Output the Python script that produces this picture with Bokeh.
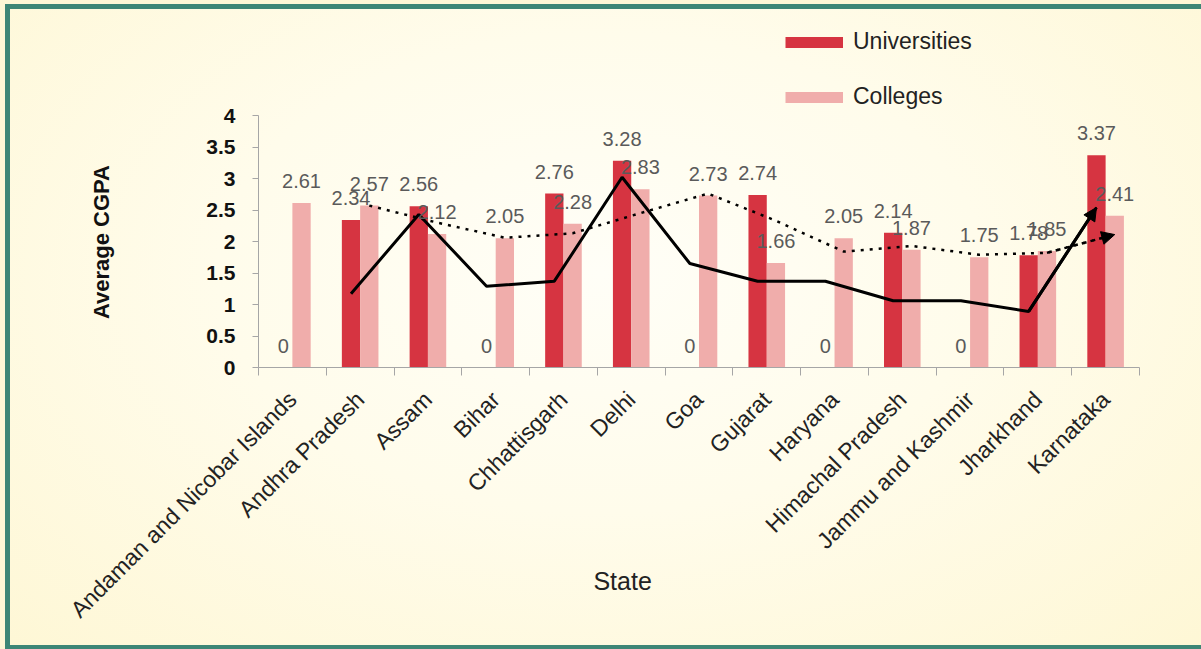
import math
from bokeh.plotting import figure
from bokeh.models import (Range1d, FixedTicker, NumeralTickFormatter, ColumnDataSource,
                          LabelSet, Legend, LegendItem, Arrow, NormalHead)
from bokeh.core.properties import value
from bokeh.embed import file_html
from bokeh.resources import INLINE

# ---------------- data ----------------
states = ["Andaman and Nicobar Islands", "Andhra Pradesh", "Assam", "Bihar", "Chhattisgarh",
          "Delhi", "Goa", "Gujarat", "Haryana", "Himachal Pradesh", "Jammu and Kashmir",
          "Jharkhand", "Karnataka"]
universities = [0, 2.34, 2.56, 0, 2.76, 3.28, 0, 2.74, 0, 2.14, 0, 1.78, 3.37]
colleges = [2.61, 2.57, 2.12, 2.05, 2.28, 2.83, 2.73, 1.66, 2.05, 1.87, 1.75, 1.85, 2.41]
univ_line = [float("nan"), 1.17, 2.43, 1.29, 1.37, 3.02, 1.65, 1.37, 1.37, 1.06, 1.06, 0.89, 2.54]
coll_line = [float("nan"), 2.57, 2.30, 2.06, 2.13, 2.45, 2.76, 2.33, 1.84, 1.93, 1.79, 1.82, 2.11]
y_ticks = [0, 0.5, 1, 1.5, 2, 2.5, 3, 3.5, 4]
series_names = ["Universities", "Colleges"]
x_title = "State"
y_title = "Average CGPA"

# ---------------- style ----------------
RED = "#D63441"
PINK = "#F0ADAB"
TEAL = "#3D8676"
EDGE = "#FEF7D6"
AXIS = "#A6A6A6"
FONT = "Liberation Sans"
DODGE = 0.135
BAR_W = 0.27
W, H = 1201, 649
FRAME_L, FRAME_R, FRAME_B = 258, 1139, 367
PX_PER_UNIT = 63.0

n = len(states)
centers = [i + 0.5 for i in range(n)]
x_u = [c - DODGE for c in centers]
x_c = [c + DODGE for c in centers]
y_max_axis = y_ticks[-1]
y_top = FRAME_B / PX_PER_UNIT   # frame reaches the top of the canvas (room for the legend)

shadow = f"inset 5px 4px 0 0 {EDGE}, inset 10px 9px 0 0 {TEAL}, inset 0 -4px 0 0 {TEAL}"

p = figure(width=W, height=H, x_range=Range1d(0, n), y_range=Range1d(0, y_top),
           title=None, output_backend="svg", toolbar_location=None,
           min_border_left=FRAME_L, min_border_right=W - FRAME_R,
           min_border_top=0, min_border_bottom=H - FRAME_B,
           border_fill_color=None, background_fill_color=None, outline_line_color=None,
           styles={"background": "radial-gradient(ellipse at 50% 42%, #FFFEF7 0%, #FFFCEB 45%, #FEF7D5 100%)",
                   "box-shadow": shadow})
p.xgrid.visible = False
p.ygrid.visible = False

src_u = ColumnDataSource(dict(x=x_u, top=universities, label=[f"{v:g}" for v in universities]))
src_c = ColumnDataSource(dict(x=x_c, top=colleges, label=[f"{v:g}" for v in colleges]))

p.vbar(x="x", top="top", width=BAR_W, source=src_u, fill_color=RED, line_color=None)
p.vbar(x="x", top="top", width=BAR_W, source=src_c, fill_color=PINK, line_color=None)

# lines
p.line(x_u, univ_line, line_color="black", line_width=3)
p.line(x_c, coll_line, line_color="black", line_width=2.5, line_dash="3 6")
p.add_layout(Arrow(end=NormalHead(size=13, fill_color="black", line_color="black"),
                   x_start=x_u[-2], y_start=univ_line[-2], x_end=x_u[-1], y_end=univ_line[-1],
                   line_color="black", line_width=3))
p.add_layout(Arrow(end=NormalHead(size=13, fill_color="black", line_color="black"),
                   x_start=x_c[-2], y_start=coll_line[-2], x_end=x_c[-1], y_end=coll_line[-1],
                   line_color="black", line_width=2.5, line_dash="3 6"))

# data labels
for src in (src_u, src_c):
    p.add_layout(LabelSet(x="x", y="top", text="label", source=src, y_offset=22,
                          text_align="center", text_baseline="middle",
                          text_font=value(FONT), text_font_size="20px", text_color="#5A5A5A"))

# x axis
xa = p.xaxis[0]
xa.ticker = FixedTicker(ticks=centers, minor_ticks=list(range(n + 1)))
xa.major_label_overrides = {c: s for c, s in zip(centers, states)}
xa.major_label_orientation = math.pi / 4
xa.major_tick_line_color = None
xa.major_tick_out = 0
xa.major_tick_in = 0
xa.minor_tick_line_color = AXIS
xa.minor_tick_out = 8
xa.minor_tick_in = 0
xa.axis_line_color = AXIS
xa.major_label_text_font = FONT
xa.major_label_text_font_size = "23px"
xa.major_label_text_color = "#222222"
xa.major_label_standoff = 20
# the original centres this title left of the plot-area centre: pad with no-break spaces
xa.axis_label = x_title + "\u00a0" * 22
xa.axis_label_text_font = FONT
xa.axis_label_text_font_size = "25px"
xa.axis_label_text_font_style = "normal"
xa.axis_label_text_color = "#222222"
xa.axis_label_standoff = -68

# y axis
ya = p.yaxis[0]
ya.bounds = (0, y_max_axis)
ya.ticker = FixedTicker(ticks=y_ticks, minor_ticks=[])
ya.formatter = NumeralTickFormatter(format="0.[0]")
ya.major_tick_out = 6
ya.major_tick_in = 0
ya.major_tick_line_color = AXIS
ya.axis_line_color = AXIS
ya.major_label_text_font = FONT
ya.major_label_text_font_size = "21px"
ya.major_label_text_font_style = "bold"
ya.major_label_text_color = "#111111"
ya.major_label_standoff = 17
# centred on the 0-4 part of the (taller) frame: pad the top end with no-break spaces
ya.axis_label = y_title + "\u00a0" * 19
ya.axis_label_text_font = FONT
ya.axis_label_text_font_size = "22px"
ya.axis_label_text_font_style = "bold"
ya.axis_label_text_color = "#111111"
ya.axis_label_standoff = 89

# legend swatches: line renderers with no visible points, 11px thick
nan = float("nan")
r1 = p.line([nan], [nan], line_color=RED, line_width=11)
r2 = p.line([nan], [nan], line_color=PINK, line_width=11)
legend = Legend(items=[LegendItem(label=series_names[0], renderers=[r1]),
                       LegendItem(label=series_names[1], renderers=[r2])],
                location=(527, 257), orientation="vertical",
                glyph_width=58, glyph_height=26, label_height=26, spacing=28,
                label_standoff=10, padding=0, margin=0,
                border_line_color=None, background_fill_color=None,
                label_text_font=FONT, label_text_font_size="23px", label_text_color="#222222")
p.add_layout(legend)

open("out.html", "w").write(file_html(p, INLINE))
